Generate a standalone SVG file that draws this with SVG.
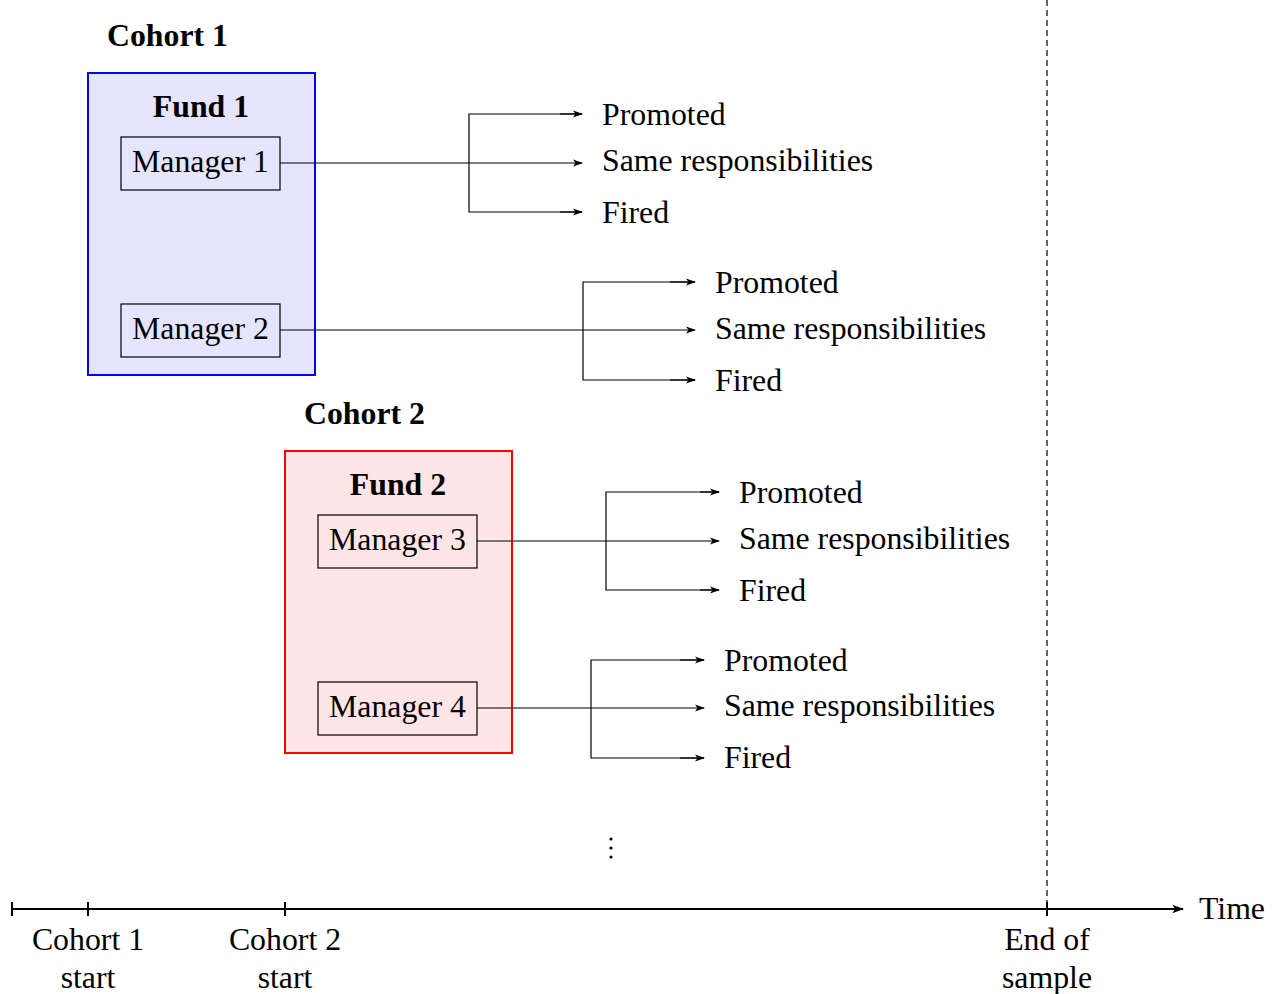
<svg xmlns="http://www.w3.org/2000/svg" width="1275" height="994" viewBox="0 0 1275 994">
<style>
text{font-family:"Liberation Serif","Times New Roman",serif;font-size:31.8px;fill:#000}
.b{font-weight:bold}
.m{text-anchor:middle}
.ln{fill:none;stroke:#000;stroke-width:1.2}
.ax{fill:none;stroke:#000;stroke-width:2}
.mgr{fill:none;stroke:#000;stroke-width:1.2}
</style>
<defs>
<marker id="a" viewBox="0 0 10 10" refX="9" refY="5" markerWidth="10" markerHeight="10" markerUnits="userSpaceOnUse" orient="auto">
<path d="M0,1.5 L10,5 L0,8.5 L2.5,5 Z" fill="#000"/>
</marker>
<marker id="a2" viewBox="0 0 10 10" refX="9" refY="5" markerWidth="12" markerHeight="12" markerUnits="userSpaceOnUse" orient="auto">
<path d="M0,1.5 L10,5 L0,8.5 L2.5,5 Z" fill="#000"/>
</marker>
</defs>
<rect width="1275" height="994" fill="#fff"/>
<line x1="1047" y1="0" x2="1047" y2="909" stroke="#000" stroke-width="1.2" stroke-dasharray="6,4"/>
<g id="cohort1">
<text x="107" y="46" class="b">Cohort 1</text>
<g id="fund1">
<rect x="88" y="73" width="227" height="302" fill="#e5e5ff" stroke="#0000ff" stroke-width="2"/>
<text x="201" y="117" class="b m">Fund 1</text>
</g>
<g id="manager1"><rect x="121" y="137" width="159" height="53" class="mgr"/><text x="200.5" y="172" class="m">Manager 1</text></g>
<g id="manager2"><rect x="121" y="304" width="159" height="53" class="mgr"/><text x="200.5" y="339" class="m">Manager 2</text></g>
</g>
<g id="cohort2">
<text x="304" y="424" class="b">Cohort 2</text>
<g id="fund2">
<rect x="285" y="451" width="227" height="302" fill="#ffe5e5" stroke="#ff0000" stroke-width="2"/>
<text x="398" y="495" class="b m">Fund 2</text>
</g>
<g id="manager3"><rect x="318" y="515" width="159" height="53" class="mgr"/><text x="397.5" y="550" class="m">Manager 3</text></g>
<g id="manager4"><rect x="318" y="682" width="159" height="53" class="mgr"/><text x="397.5" y="717" class="m">Manager 4</text></g>
</g>
<g id="connectors">
<line x1="280" y1="163" x2="582" y2="163" class="ln" marker-end="url(#a)"/>
<path d="M582,114 H469 V212 H582" class="ln"/>
<line x1="560" y1="114" x2="582" y2="114" class="ln" marker-end="url(#a)"/>
<line x1="560" y1="212" x2="582" y2="212" class="ln" marker-end="url(#a)"/>

<line x1="280" y1="330" x2="695" y2="330" class="ln" marker-end="url(#a)"/>
<path d="M695,282 H583 V380 H695" class="ln"/>
<line x1="670" y1="282" x2="695" y2="282" class="ln" marker-end="url(#a)"/>
<line x1="670" y1="380" x2="695" y2="380" class="ln" marker-end="url(#a)"/>

<line x1="477" y1="541" x2="719" y2="541" class="ln" marker-end="url(#a)"/>
<path d="M719,492 H606 V590 H719" class="ln"/>
<line x1="700" y1="492" x2="719" y2="492" class="ln" marker-end="url(#a)"/>
<line x1="700" y1="590" x2="719" y2="590" class="ln" marker-end="url(#a)"/>

<line x1="477" y1="708" x2="704" y2="708" class="ln" marker-end="url(#a)"/>
<path d="M704,660 H591 V758 H704" class="ln"/>
<line x1="680" y1="660" x2="704" y2="660" class="ln" marker-end="url(#a)"/>
<line x1="680" y1="758" x2="704" y2="758" class="ln" marker-end="url(#a)"/>
</g>
<g id="outcomes1">
<text x="602" y="125">Promoted</text>
<text x="602" y="171">Same responsibilities</text>
<text x="602" y="223">Fired</text>
</g>
<g id="outcomes2">
<text x="715" y="293">Promoted</text>
<text x="715" y="339">Same responsibilities</text>
<text x="715" y="391">Fired</text>
</g>
<g id="outcomes3">
<text x="739" y="503">Promoted</text>
<text x="739" y="549">Same responsibilities</text>
<text x="739" y="601">Fired</text>
</g>
<g id="outcomes4">
<text x="724" y="671">Promoted</text>
<text x="724" y="716">Same responsibilities</text>
<text x="724" y="768">Fired</text>
</g>
<g id="vdots" fill="#000">
<circle cx="611" cy="839" r="1.6"/><circle cx="611" cy="848" r="1.6"/><circle cx="611" cy="857" r="1.6"/>
</g>
<g id="timeline">
<line x1="12" y1="909" x2="1183" y2="909" class="ax" marker-end="url(#a2)"/>
<path d="M12,902 V916 M88,902 V916 M285,902 V916 M1047,902 V916" class="ax"/>
<text x="1199" y="919">Time</text>
<text x="88" y="950" class="m">Cohort 1</text>
<text x="88" y="988" class="m">start</text>
<text x="285" y="950" class="m">Cohort 2</text>
<text x="285" y="988" class="m">start</text>
<text x="1047" y="950" class="m">End of</text>
<text x="1047" y="988" class="m">sample</text>
</g>
</svg>
